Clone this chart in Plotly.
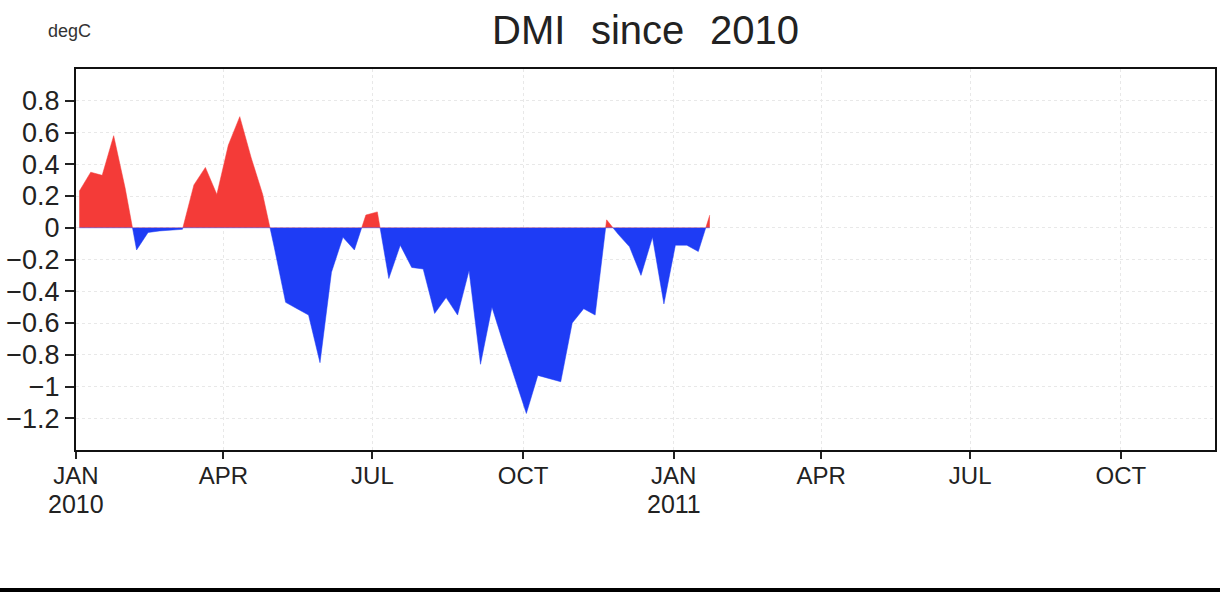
import pandas as pd
import numpy as np
import plotly.graph_objects as go

# ---- data ----
week_start = "2010-01-03"
dmi_values = [0.23, 0.35, 0.33, 0.58, 0.25, -0.14, -0.03, -0.02, -0.015, -0.01,
              0.27, 0.38, 0.21, 0.52, 0.70, 0.44, 0.21, -0.12, -0.47, -0.51,
              -0.55, -0.85, -0.28, -0.06, -0.14, 0.08, 0.10, -0.32, -0.11, -0.25,
              -0.26, -0.54, -0.44, -0.55, -0.27, -0.86, -0.50, -0.73, -0.95, -1.17,
              -0.93, -0.95, -0.97, -0.60, -0.51, -0.55, 0.05, -0.04, -0.12, -0.30,
              -0.06, -0.48, -0.11, -0.11, -0.15, 0.08]
dates = pd.date_range(week_start, periods=len(dmi_values), freq="7D")

tick_dates = ["2010-01-01", "2010-04-01", "2010-07-01", "2010-10-01",
              "2011-01-01", "2011-04-01", "2011-07-01", "2011-10-01"]
tick_labels = ["JAN", "APR", "JUL", "OCT", "JAN", "APR", "JUL", "OCT"]
year_dates = ["2010-01-01", "2011-01-01"]
year_labels = ["2010", "2011"]
y_ticks = [0.8, 0.6, 0.4, 0.2, 0, -0.2, -0.4, -0.6, -0.8, -1, -1.2]
y_tick_labels = ["0.8", "0.6", "0.4", "0.2", "0", "\u22120.2", "\u22120.4", "\u22120.6",
                 "\u22120.8", "\u22121", "\u22121.2"]

# ---- insert zero crossings so the two colours meet exactly on the axis ----
t = np.asarray(dates.asi8, dtype=float)
v = np.asarray(dmi_values, dtype=float)
xs, ys = [t[0]], [v[0]]
for i in range(1, len(v)):
    if v[i - 1] * v[i] < 0:
        f = v[i - 1] / (v[i - 1] - v[i])
        xs.append(t[i - 1] + f * (t[i] - t[i - 1]))
        ys.append(0.0)
    xs.append(t[i])
    ys.append(v[i])
xd = pd.to_datetime(np.asarray(xs).astype("int64"))
ys = np.asarray(ys)
pos = np.maximum(ys, 0)
neg = np.minimum(ys, 0)

RED = "#F43B38"
BLUE = "#1E3CF5"

fig = go.Figure()
fig.add_trace(go.Scatter(x=xd, y=pos, mode="lines", fill="tozeroy",
                         fillcolor=RED, line=dict(color=RED, width=0.5),
                         hoverinfo="skip", showlegend=False))
fig.add_trace(go.Scatter(x=xd, y=neg, mode="lines", fill="tozeroy",
                         fillcolor=BLUE, line=dict(color=BLUE, width=0.5),
                         hoverinfo="skip", showlegend=False))

SP = "\u00a0\u00a0\u200a"
fig.update_layout(
    width=1220, height=592,
    margin=dict(l=76, r=3, t=69, b=142),
    paper_bgcolor="white", plot_bgcolor="white",
    font=dict(family="Liberation Sans, Arial, sans-serif", color="#222"),
    title=dict(text="DMI" + SP + "since" + SP + "2010", x=0.5, xref="paper",
               xanchor="center", y=0.95, yanchor="middle",
               font=dict(size=40, color="#222", family="Liberation Sans, Arial, sans-serif")),
    showlegend=False,
)
fig.update_xaxes(
    type="date", range=["2010-01-01", "2011-11-27 12:00"],
    tickmode="array", tickvals=tick_dates, ticktext=tick_labels,
    ticks="outside", ticklen=7, tickwidth=1.5, tickcolor="#222",
    tickfont=dict(size=24, family="Liberation Sans, Arial", color="#222"),
    ticklabelstandoff=-4,
    showline=True, linecolor="#111", linewidth=2, mirror=True,
    showgrid=True, gridcolor="#e8e8e8", griddash="dot", gridwidth=1,
    zeroline=False,
)
fig.update_yaxes(
    range=[-1.4, 1.0],
    tickmode="array", tickvals=y_ticks, ticktext=y_tick_labels,
    ticks="outside", ticklen=9, tickwidth=1.5, tickcolor="#222",
    tickfont=dict(size=27, family="Liberation Sans, Arial", color="#222"),
    showline=True, linecolor="#111", linewidth=2, mirror=True,
    showgrid=True, gridcolor="#e8e8e8", griddash="dot", gridwidth=1,
    zeroline=False,
)
for xd_, lab in zip(year_dates, year_labels):
    fig.add_annotation(text=lab, x=xd_, xref="x", yref="paper", y=-0.142,
                       xanchor="center", yanchor="middle", showarrow=False,
                       font=dict(size=25, color="#222", family="Liberation Sans, Arial"))
fig.add_annotation(text="degC", xref="paper", yref="paper", x=-0.0263, y=1.10,
                   xanchor="left", yanchor="middle", showarrow=False,
                   font=dict(size=18, color="#333", family="Liberation Sans, Arial"))
# black band at the very bottom of the image
fig.add_shape(type="rect", xref="paper", yref="paper", x0=-0.07, x1=1.01,
              y0=-0.38, y1=-0.362, fillcolor="black", line=dict(width=0), layer="above")

fig.write_html("out.html")
